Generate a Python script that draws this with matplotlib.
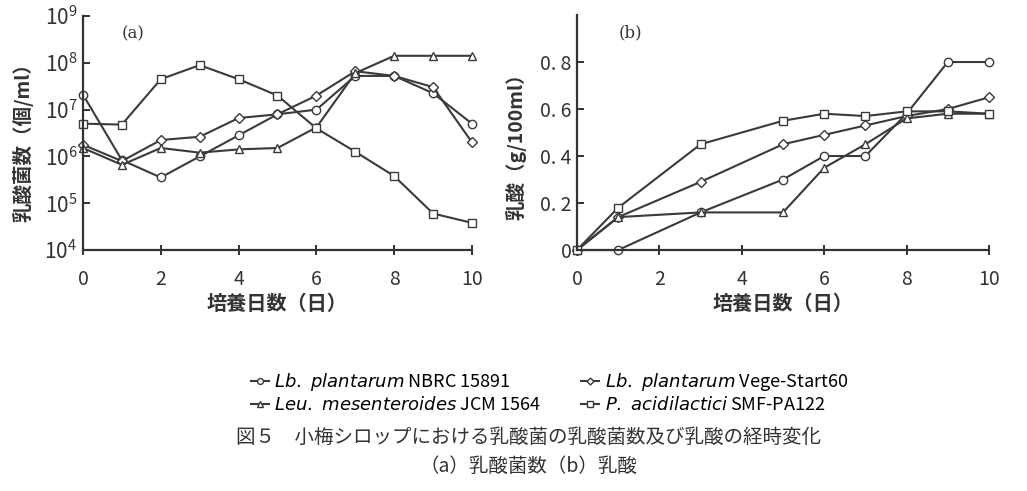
import numpy as np
import matplotlib
matplotlib.use("Agg")
import matplotlib.pyplot as plt
from matplotlib.ticker import FixedLocator, FuncFormatter

plt.rcParams['font.family'] = ['Noto Sans CJK JP', 'DejaVu Sans']

# (a) lactic acid bacteria count, log10(cells/ml)
days_a = [0, 1, 2, 3, 4, 5, 6, 7, 8, 9, 10]
nbrc_a = [7.32, 5.92, 5.55, 6.0, 6.45, 6.9, 7.0, 7.72, 7.72, 7.35, 6.7]
vege_a = [6.25, 5.9, 6.35, 6.42, 6.82, 6.9, 7.3, 7.82, 7.72, 7.48, 6.3]
leu_a = [6.18, 5.82, 6.18, 6.08, 6.15, 6.18, 6.62, 7.78, 8.15, 8.15, 8.15]
pedi_a = [6.7, 6.68, 7.65, 7.95, 7.65, 7.3, 6.6, 6.1, 5.58, 4.78, 4.58]

# (b) lactic acid, g/100ml
days_b = [0, 1, 3, 5, 6, 7, 8, 9, 10]
nbrc_b = [0, 0.0, 0.16, 0.30, 0.40, 0.40, 0.58, 0.80, 0.80]
vege_b = [0, 0.14, 0.29, 0.45, 0.49, 0.53, 0.57, 0.60, 0.65]
leu_b = [0, 0.14, 0.16, 0.16, 0.35, 0.45, 0.56, 0.58, 0.58]
pedi_b = [0, 0.18, 0.45, 0.55, 0.58, 0.57, 0.59, 0.59, 0.58]

labels = [r"$\it{Lb.\ plantarum}$ NBRC 15891",
          r"$\it{Lb.\ plantarum}$ Vege-Start60",
          r"$\it{Leu.\ mesenteroides}$ JCM 1564",
          r"$\it{P.\ acidilactici}$ SMF-PA122"]
markers = ['o', 'D', '^', 's']
msizes = [6, 5, 6, 6]
col = '#3a3a3a'

fig = plt.figure(figsize=(10.27, 4.91), dpi=100)
ax1 = fig.add_axes([0.0808, 0.4908, 0.3788, 0.4766])
ax2 = fig.add_axes([0.5618, 0.4908, 0.4012, 0.4786])

handles = []
for vals, m, ms, lab in zip([nbrc_a, vege_a, leu_a, pedi_a], markers, msizes, labels):
    h, = ax1.plot(days_a, 10 ** np.array(vals), color=col, lw=1.5, marker=m, ms=ms,
                  mfc='white', mec=col, mew=1.0, clip_on=False, label=lab)
    handles.append(h)
for vals, m, ms in zip([nbrc_b, vege_b, leu_b, pedi_b], markers, msizes):
    ax2.plot(days_b, vals, color=col, lw=1.5, marker=m, ms=ms,
             mfc='white', mec=col, mew=1.0, clip_on=False)

ax1.set_yscale('log')
ax1.set_ylim(1e4, 1e9)
ax1.yaxis.set_major_locator(FixedLocator([10.0 ** k for k in range(4, 10)]))
ax1.yaxis.set_major_formatter(FuncFormatter(lambda v, p: r"$\mathregular{10^{%d}}$" % round(np.log10(v))))
ax1.yaxis.set_minor_locator(FixedLocator([]))
ax2.set_ylim(0, 1.0)
ax2.set_yticks([0, 0.2, 0.4, 0.6, 0.8])
ax2.set_yticklabels(['0', '0. 2', '0. 4', '0. 6', '0. 8'])

for ax in (ax1, ax2):
    ax.set_xlim(0, 10)
    ax.set_xticks(range(0, 11, 2))
    for s in ('top', 'right'):
        ax.spines[s].set_visible(False)
    for s in ('left', 'bottom'):
        ax.spines[s].set_linewidth(1.6)
        ax.spines[s].set_color('#333333')
    ax.tick_params(axis='x', direction='inout', length=7, width=1.4, pad=10,
                   labelsize=14, colors='#333333')
    ax.tick_params(axis='y', direction='in', length=5, width=1.4, pad=4,
                   labelsize=14, colors='#333333')
    ax.set_xlabel('培養日数（日）', fontsize=14.5, fontweight='bold', color='#333333', labelpad=2)

ax1.yaxis.set_tick_params(labelsize=15)
ax1.set_ylabel('乳酸菌数（個/ml）', fontsize=14, fontweight='bold', color='#333333')
ax2.set_ylabel('乳酸（g/100ml）', fontsize=14, fontweight='bold', color='#333333')
ax1.yaxis.set_label_coords(-0.128, 0.48)
ax2.yaxis.set_label_coords(-0.122, 0.46)
ax1.text(0.1, 0.96, '(a)', transform=ax1.transAxes, fontsize=12, color='#333333',
         family='DejaVu Serif', va='top')
ax2.text(0.1, 0.96, '(b)', transform=ax2.transAxes, fontsize=12, color='#333333',
         family='DejaVu Serif', va='top')

# column-major order so rows read: NBRC | Vege ; Leu | P.
order = [0, 2, 1, 3]
leg = fig.legend(handles=[handles[i] for i in order], labels=[labels[i] for i in order],
                 loc='center', bbox_to_anchor=(0.535, 0.20), ncol=2,
                 bbox_transform=fig.transFigure, frameon=False, fontsize=13,
                 handlelength=1.0, handletextpad=0.3, columnspacing=2.2, labelspacing=0.15,
                 markerscale=0.7)

fig.text(0.515, 0.11, '図５　小梅シロップにおける乳酸菌の乳酸菌数及び乳酸の経時変化',
         ha='center', va='center', fontsize=14, color='#333333')
fig.text(0.515, 0.05, '（a）乳酸菌数（b）乳酸', ha='center', va='center',
         fontsize=14, color='#333333')

fig.savefig('out.png', dpi=100)
